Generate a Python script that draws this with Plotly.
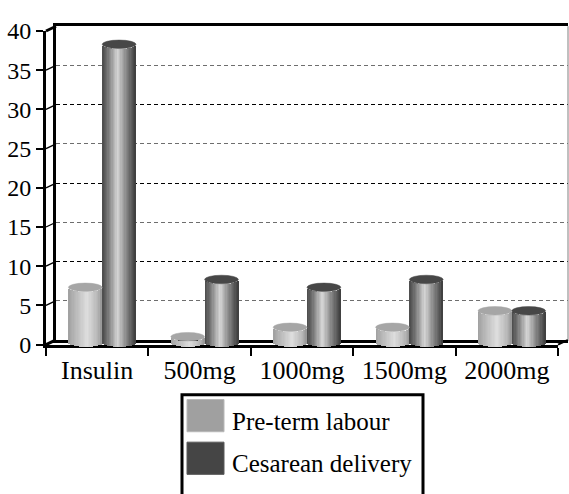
import math
import plotly.graph_objects as go

# ---------------- data ----------------
categories = ["Insulin", "500mg", "1000mg", "1500mg", "2000mg"]
preterm_labour = [7, 0.7, 1.9, 1.9, 4]
cesarean_delivery = [38, 8, 7, 8, 4]
y_ticks = list(range(0, 45, 5))
series_names = ["Pre-term labour", "Cesarean delivery"]

# ---------------- geometry / style ----------------
W, H = 569, 494
FX0, FX1 = 46, 558          # front x-axis extent (px)
FY0, FY40 = 350, 19         # front y of value 0 and 40 (px)
DX, DY = 10, 5              # depth offset of the back wall (px)
S = (FY0 - FY40) / 40.0     # px per unit
FONT = "Liberation Serif"

def px(x):
    return x / W

def py(y):
    return 1 - y / H

# cylinder shading stops
light_stops = [(0, (160, 160, 160)), (0.15, (178, 178, 178)), (0.55, (222, 222, 222)),
               (0.85, (184, 184, 184)), (1, (150, 150, 150))]
dark_stops = [(0, (74, 74, 74)), (0.15, (112, 112, 112)), (0.45, (214, 214, 214)),
              (0.7, (138, 138, 138)), (0.9, (85, 85, 85)), (1, (60, 60, 60))]
cap_colors = ["#a6a6a6", "#474747"]
swatch_colors = ["#a0a0a0", "#454545"]

def shade(stops, t):
    for (t0, c0), (t1, c1) in zip(stops[:-1], stops[1:]):
        if t0 <= t <= t1:
            f = (t - t0) / (t1 - t0)
            c = [round(a + (b - a) * f) for a, b in zip(c0, c1)]
            return "rgb(%d,%d,%d)" % tuple(c)
    return "rgb(%d,%d,%d)" % stops[-1][1]

BAR_W = 0.33
offsets = [-0.33, 0.0]
N = 26
h = 4.5 / S   # half height of ellipse cap in data units

fig = go.Figure()

back_x = [FX0 + DX, FX1 + DX]
back_y = [FY0 - DY, FY40 - DY]
mid_y0 = FY0 - DY / 2.0
mid_x = [FX0 + DX / 2.0, FX1 + DX / 2.0]

# back wall subplot (xy) needs a trace to be drawn
fig.add_trace(go.Scatter(x=[0], y=[0], mode="markers", marker=dict(opacity=0),
                         xaxis="x", yaxis="y", hoverinfo="skip", showlegend=False))
# front axes subplot (x2y2)
fig.add_trace(go.Scatter(x=categories, y=[0] * len(categories), mode="markers",
                         marker=dict(opacity=0), xaxis="x2", yaxis="y2",
                         hoverinfo="skip", showlegend=False))

# cylinders (x3y3) as shaded vertical strips
for si, (vals, stops) in enumerate([(preterm_labour, light_stops), (cesarean_delivery, dark_stops)]):
    for k in range(N):
        t = (k + 0.5) / N
        u = 2 * t - 1
        sw = BAR_W / N
        wdt = sw * 1.6 if k < N - 1 else sw
        fig.add_trace(go.Bar(
            x=categories, y=vals,
            base=[-h * math.sqrt(max(0.0, 1 - u * u))] * len(vals),
            width=wdt, offset=offsets[si] + k * sw,
            marker=dict(color=shade(stops, t), line=dict(width=0)),
            xaxis="x3", yaxis="y3", showlegend=False, hoverinfo="skip"))

shapes = []
for si, vals in enumerate([preterm_labour, cesarean_delivery]):
    for ci, v in enumerate(vals):
        shapes.append(dict(type="circle", xref="x3", yref="y3",
                           x0=ci + offsets[si], x1=ci + offsets[si] + BAR_W,
                           y0=v - h, y1=v + h,
                           fillcolor=cap_colors[si],
                           line=dict(color=cap_colors[si], width=0.5)))

for v in y_ticks:
    yf = FY0 - S * v
    lw = 3 if v in (0, 40) else 1.3
    shapes.append(dict(type="line", xref="paper", yref="paper",
                       x0=px(FX0), y0=py(yf), x1=px(FX0 + DX), y1=py(yf - DY),
                       line=dict(color="black", width=lw)))
shapes.append(dict(type="line", xref="paper", yref="paper",
                   x0=px(FX1), y0=py(FY0), x1=px(FX1 + DX), y1=py(FY0 - DY),
                   line=dict(color="black", width=2)))
shapes.append(dict(type="line", xref="paper", yref="paper",
                   x0=px(FX1 + DX), y0=py(FY40 - DY), x1=px(FX1 + DX), y1=py(FY0 - DY),
                   line=dict(color="#808080", width=1)))

# custom legend
LX0, LX1, LY0, LY1 = 182, 423, 403, 530
shapes.append(dict(type="rect", xref="paper", yref="paper",
                   x0=px(LX0), x1=px(LX1), y0=py(LY0), y1=py(LY1),
                   fillcolor="white", line=dict(color="black", width=3)))
legend_rows = [408, 453]
annotations = []
for i, top in enumerate(legend_rows):
    shapes.append(dict(type="rect", xref="paper", yref="paper",
                       x0=px(187), x1=px(224), y0=py(top), y1=py(top + 34),
                       fillcolor=swatch_colors[i],
                       line=dict(color="#b8b8b8" if i == 0 else "#5a5a5a", width=1)))
    annotations.append(dict(x=px(230), y=py(top + 23), xref="paper", yref="paper",
                            text=series_names[i], showarrow=False,
                            xanchor="left", yanchor="middle",
                            font=dict(family=FONT, size=25, color="black")))

fig.update_layout(
    width=W, height=H,
    margin=dict(l=0, r=0, t=0, b=0),
    paper_bgcolor="white", plot_bgcolor="rgba(0,0,0,0)",
    barmode="overlay", bargap=0,
    showlegend=False,
    shapes=shapes, annotations=annotations,
    font=dict(family=FONT, color="black"),
    xaxis=dict(domain=[px(back_x[0]), px(back_x[1])], range=[-0.5, 4.5],
               showticklabels=False, ticks="", showgrid=False, zeroline=False,
               showline=True, mirror=True, linewidth=3, linecolor="black",
               anchor="y"),
    yaxis=dict(domain=[py(back_y[0]), py(back_y[1])], range=[0, 40],
               showticklabels=False, ticks="", zeroline=False,
               showgrid=True, dtick=10, gridcolor="black", gridwidth=1, griddash="4px,3px",
               minor=dict(dtick=5, showgrid=True, gridcolor="#6e6e6e", gridwidth=1, griddash="4px,3px"),
               showline=True, linewidth=3, linecolor="black", anchor="x"),
    xaxis2=dict(domain=[px(FX0), px(FX1)], type="category",
                categoryorder="array", categoryarray=categories, range=[-0.5, 4.5],
                tickson="boundaries", ticks="outside", ticklen=8, tickwidth=2, tickcolor="black",
                showline=True, linewidth=3, linecolor="black", showgrid=False, zeroline=False,
                tickfont=dict(family=FONT, size=26, color="black"), anchor="y2"),
    yaxis2=dict(domain=[py(FY0), py(FY40)], range=[0, 40], dtick=5, tick0=0,
                ticks="outside", ticklen=7, tickwidth=2, tickcolor="black",
                showline=True, linewidth=3, linecolor="black", showgrid=False, zeroline=False,
                tickfont=dict(family=FONT, size=24, color="black"), anchor="x2"),
    xaxis3=dict(domain=[px(mid_x[0]), px(mid_x[1])], type="category",
                categoryorder="array", categoryarray=categories, range=[-0.5, 4.5],
                visible=False, anchor="y3"),
    yaxis3=dict(domain=[py(mid_y0 + S * 1), py(mid_y0 - S * 40)], range=[-1, 40],
                visible=False, anchor="x3"),
)

fig.write_html("out.html")
